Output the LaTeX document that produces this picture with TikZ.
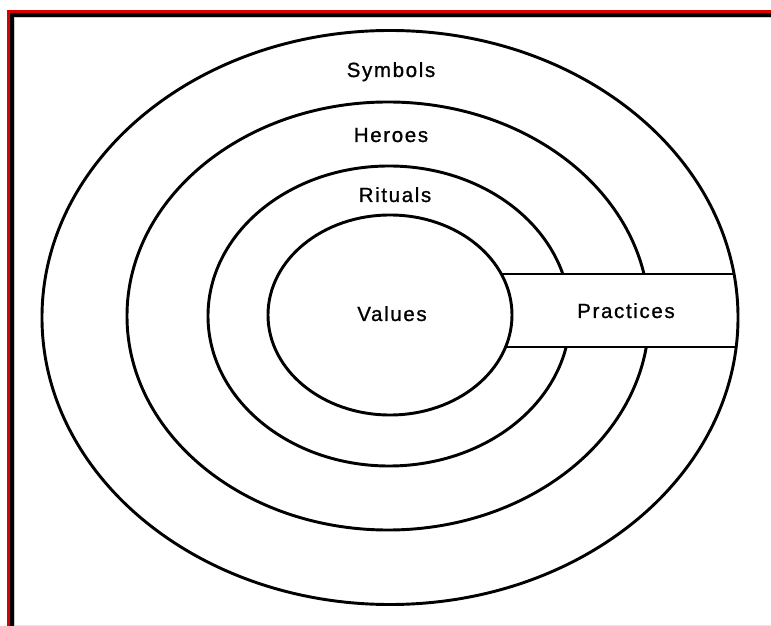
\documentclass[tikz,border=0pt]{standalone}
\usepackage{fontspec}
\usetikzlibrary{shapes.geometric}
\newfontfamily\labfont[LetterSpace=8,FakeBold=1]{Liberation Sans}
\begin{document}
\begin{tikzpicture}[x=0.03cm,y=-0.03cm,
  ring/.style={ellipse,draw=black,line width=2.5pt,inner sep=0pt,outer sep=0pt},
  lab/.style={font=\labfont\fontsize{17.5}{20}\selectfont,anchor=base,inner sep=0pt},
  edge/.style={line width=2.5pt,black}]
\useasboundingbox (0,0) rectangle (771,626);
% frame
\draw[line width=2.1pt,red!85!black] (8.5,626) -- (8.5,11.5) -- (771,11.5);
\draw[line width=3.4pt,black] (12,626) -- (12,15) -- (771,15);
\draw[line width=0.8pt,gray!40] (14.5,626) -- (14.5,17.5) -- (771,17.5);
\draw[line width=0.8pt,gray!20] (15,625) -- (771,625);
% middle rings
\node[ring,minimum width=15.66cm,minimum height=12.84cm] (heroes) at (388,316) {};
\node[ring,minimum width=10.86cm,minimum height=9.0cm] (rituals) at (389,316) {};
% practices band
\fill[white] (470,274) rectangle (771,347);
% values and outer rings
\node[ring,minimum width=7.32cm,minimum height=6.0cm] (values) at (390,315) {};
\node[ring,minimum width=20.88cm,minimum height=17.22cm] (outer) at (390,317.5) {};
\coordinate (vtop) at (501.3,274);
\coordinate (vbot) at (505.6,347);
\coordinate (otop) at (734.0,274);
\coordinate (obot) at (736.2,347);
\draw[edge] (vtop) -- (otop);
\draw[edge] (vbot) -- (obot);
% labels
\node[lab] (tsym) at (391,77) {Symbols};
\node[lab] (thero) at (391,142) {Heroes};
\node[lab] (trit) at (395,202) {Rituals};
\node[lab] (tval) at (392,321) {Values};
\node[lab] (tprac) at (626,318) {Practices};
\end{tikzpicture}
\end{document}
